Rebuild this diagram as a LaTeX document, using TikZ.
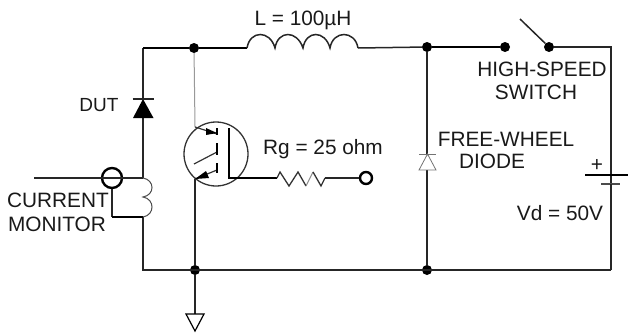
\documentclass[tikz,border=0pt]{standalone}
\usepackage{fontspec}
\setmainfont{Liberation Sans}
\usetikzlibrary{arrows.meta}
\tikzset{
  wire/.style={line width=1.5pt,black!85},
  thick wire/.style={line width=2.2pt,black},
  thin wire/.style={line width=1pt,black!40},
  dot/.style={circle,fill=black,inner sep=0pt,minimum size=10pt},
  term/.style={circle,draw=black,line width=2.4pt,fill=none,inner sep=0pt,minimum size=#1},
  lbl/.style={inner sep=0pt,font=\fontsize{20.8}{24}\selectfont,text=black!90},
  plate/.style={line width=1.5pt}
}
\begin{document}
\begin{tikzpicture}[x=1pt,y=-1pt]
\useasboundingbox (0,0) rectangle (628,332);
% junctions
\node[dot] (j1) at (194,48) {};
\node[dot] (j2) at (427,47) {};
\node[dot] (sw1) at (505,47) {};
\node[dot] (sw2) at (549,47) {};
\node[dot] (j3) at (195,270) {};
\node[dot] (j4) at (427,270) {};
\coordinate (tl) at (143,48);
\coordinate (bl) at (143,270);
\coordinate (tr) at (611,47);
\coordinate (br) at (611,270);
\coordinate (swtip) at (520,19);
\coordinate (lin) at (247,48);
\coordinate (lout) at (358,48);
% DUT diode
\coordinate (dutA) at (143,118);
\coordinate (dutK) at (143,99);
\draw[wire] (tl) -- (dutK);
\draw[wire] (dutA) -- (143,178);
\fill (133,118) -- (153.5,118) -- (143,99) -- cycle;
\draw[wire] (132.5,99) -- (153.5,99);
% top wires
\draw[thick wire] (tl) -- (j1) -- (lin);
\draw[wire] (lout) -- (j2);
\draw[thick wire] (j2) -- (sw1);
\draw[wire] (sw2) -- (swtip);
\draw[wire] (sw2) -- (tr) -- (611,184);
% inductor
\draw[wire] (lin) .. controls (250,30) and (270,30) .. (275,48)
  .. controls (278,30) and (297,30) .. (303,48)
  .. controls (306,30) and (325,30) .. (330,48)
  .. controls (333,30) and (355,30) .. (358,48);
% battery
\draw[plate] (585,175) -- (628,175);
\draw[plate,black!70] (601,184) -- (620,184);
\node[lbl] (plus) at (597,165) {+};
\draw[wire] (611,184) -- (br);
% bottom and right
\draw[wire] (br) -- (bl) -- (143,217);
% free wheel diode
\draw[wire] (j2) -- (427,154);
\draw[wire] (427,170) -- (j4);
\draw[line width=.8pt,black!55] (419,154) -- (436,154);
\draw[line width=.8pt,black!55] (419,170) -- (436,170) -- (427.5,154) -- cycle;
% IGBT
\node[circle,draw=black!80,line width=1.3pt,minimum size=64pt,inner sep=0pt] (q) at (216,154) {};
\draw[thin wire] (j1) -- (195,127);
\coordinate (qc) at (195,127);
\coordinate (qe) at (195,179);
\draw[wire] (qe) -- (j3);
\draw[wire] (j3) -- (195,314);
\draw[line width=1.2pt,black!80] (qc) -- (217,134);
\fill (206,128) -- (217,133) -- (206,135) -- cycle;
\draw[line width=1.2pt,black!80] (qe) -- (217,170);
\fill (195,179) -- (206,171) -- (209,178) -- cycle;
\draw[line width=1.2pt,black!80] (194,164) -- (217,152);
\draw[line width=1.5pt,black] (217,128) -- (217,135) (217,143) -- (217,155) (217,163) -- (217,173);
\draw[line width=2pt] (229,128) -- (229,178) -- (277,178);
% resistor
\draw[line width=1.3pt,black!80] (277,178) -- (280,172) -- (289,186) -- (298,172) -- (306,186);
\draw[line width=1pt,black!45] (306,186) -- (313,172);
\draw[line width=1.3pt,black!80] (313,172) -- (321,186) -- (325,178);
\node[term=12pt] (gt) at (366,178) {};
\coordinate (gr) at (325,178);
\draw[wire] (gr) -- (gt);
% current monitor
\node[term=20pt] (cm) at (112,178) {};
\coordinate (cin) at (34,178);
\draw[wire] (cin) -- (143,178);
\draw[wire] (cm) -- (112,217);
\draw[thick wire] (112,217) -- (143,217);
\draw[line width=1pt,black!70] (143,178) .. controls (155,180) and (155,195) .. (143,197)
  .. controls (155,199) and (155,215) .. (143,217);
% ground
\node[inner sep=0pt,minimum size=0pt] (g) at (195,314) {};
\draw[line width=1.2pt,black] (186,314) -- (204,314) -- (195,331) -- cycle;
% labels
\node[lbl] (tL) at (303,20) {L = 100µH};
\node[lbl] (tRg) at (323,149) {Rg = 25 ohm};
\node[lbl,font=\fontsize{19}{22}\selectfont] (tDUT) at (99,105) {DUT};
\node[lbl] (tC) at (58,200) {CURRENT};
\node[lbl] (tM) at (57,224) {MONITOR};
\node[lbl] (tH) at (542,69) {HIGH-SPEED};
\node[lbl] (tS) at (536,92) {SWITCH};
\node[lbl] (tF) at (506,139) {FREE-WHEEL};
\node[lbl] (tD) at (492,161) {DIODE};
\node[lbl] (tV) at (560,213) {Vd = 50V};
\end{tikzpicture}
\end{document}
